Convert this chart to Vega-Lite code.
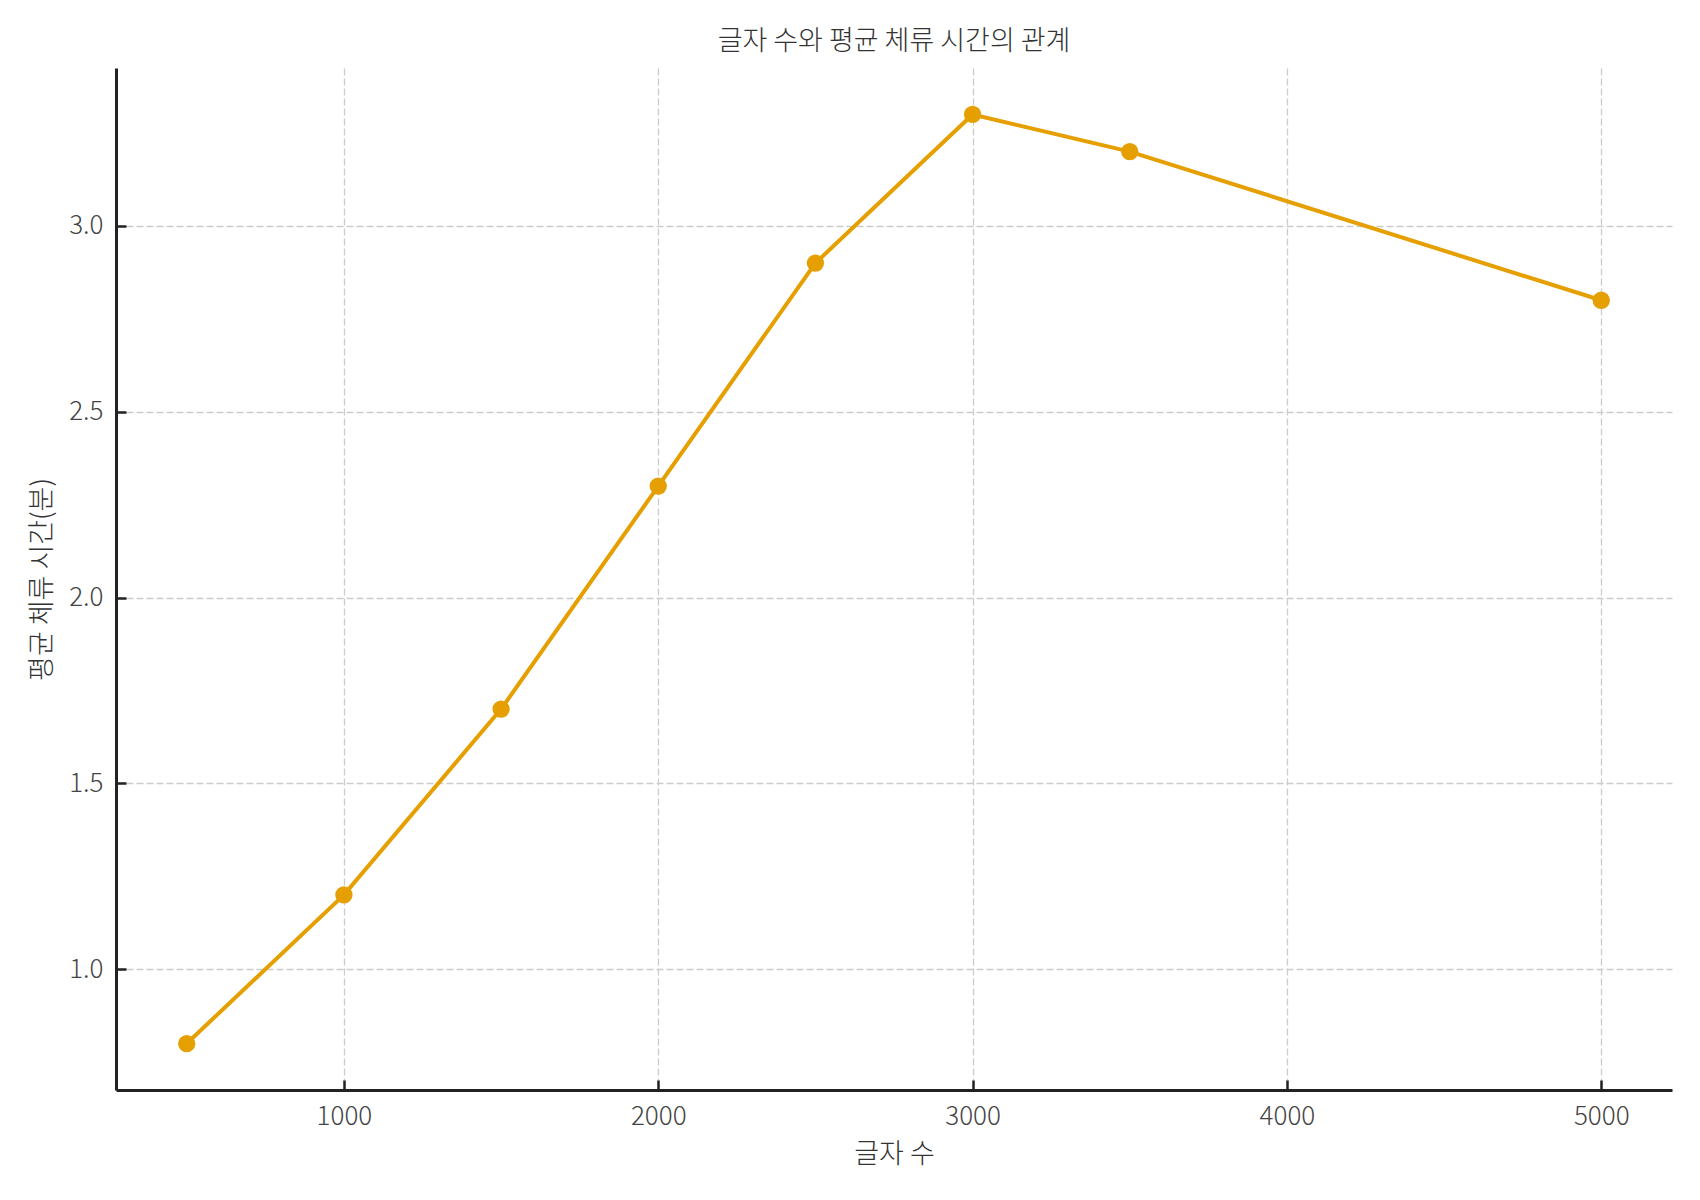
{
  "$schema": "https://vega.github.io/schema/vega-lite/v6.json",
  "description": "글자 수와 평균 체류 시간의 관계",
  "autosize": {"type": "none"},
  "padding": {"left": 116, "top": 68, "right": 28, "bottom": 110},
  "width": 1556,
  "height": 1022,
  "background": "white",
  "title": {
    "text": "글자 수와 평균 체류 시간의 관계",
    "anchor": "middle",
    "offset": 12,
    "font": "Noto Sans CJK KR",
    "fontSize": 27,
    "fontWeight": 300,
    "color": "#333333"
  },
  "data": {
    "values": [
      {"chars": 500, "minutes": 0.8},
      {"chars": 1000, "minutes": 1.2},
      {"chars": 1500, "minutes": 1.7},
      {"chars": 2000, "minutes": 2.3},
      {"chars": 2500, "minutes": 2.9},
      {"chars": 3000, "minutes": 3.3},
      {"chars": 3500, "minutes": 3.2},
      {"chars": 5000, "minutes": 2.8}
    ]
  },
  "encoding": {
    "x": {
      "field": "chars",
      "type": "quantitative",
      "title": "글자 수",
      "scale": {"domain": [275, 5225], "nice": false, "zero": false},
      "axis": {"values": [1000, 2000, 3000, 4000, 5000], "format": "d", "titlePadding": 12}
    },
    "y": {
      "field": "minutes",
      "type": "quantitative",
      "title": "평균 체류 시간(분)",
      "scale": {"domain": [0.675, 3.425], "nice": false, "zero": false},
      "axis": {"values": [1.0, 1.5, 2.0, 2.5, 3.0], "format": ".1f", "titlePadding": 12}
    }
  },
  "layer": [
    {"mark": {"type": "line", "color": "#E69F00", "strokeWidth": 4}},
    {"mark": {"type": "point", "filled": true, "color": "#E69F00", "opacity": 1, "size": 300}}
  ],
  "config": {
    "view": {"stroke": null},
    "axis": {
      "domainColor": "#222222",
      "domainWidth": 3,
      "tickColor": "#222222",
      "tickWidth": 2.5,
      "tickSize": -10,
      "labelPadding": 23,
      "labelFont": "Noto Sans CJK KR",
      "labelFontSize": 26,
      "labelFontWeight": 300,
      "labelColor": "#444444",
      "titleFont": "Noto Sans CJK KR",
      "titleFontSize": 27,
      "titleFontWeight": 300,
      "titleColor": "#333333",
      "grid": true,
      "gridColor": "#cccccc",
      "gridWidth": 1.3,
      "gridDash": [7, 3]
    }
  }
}
